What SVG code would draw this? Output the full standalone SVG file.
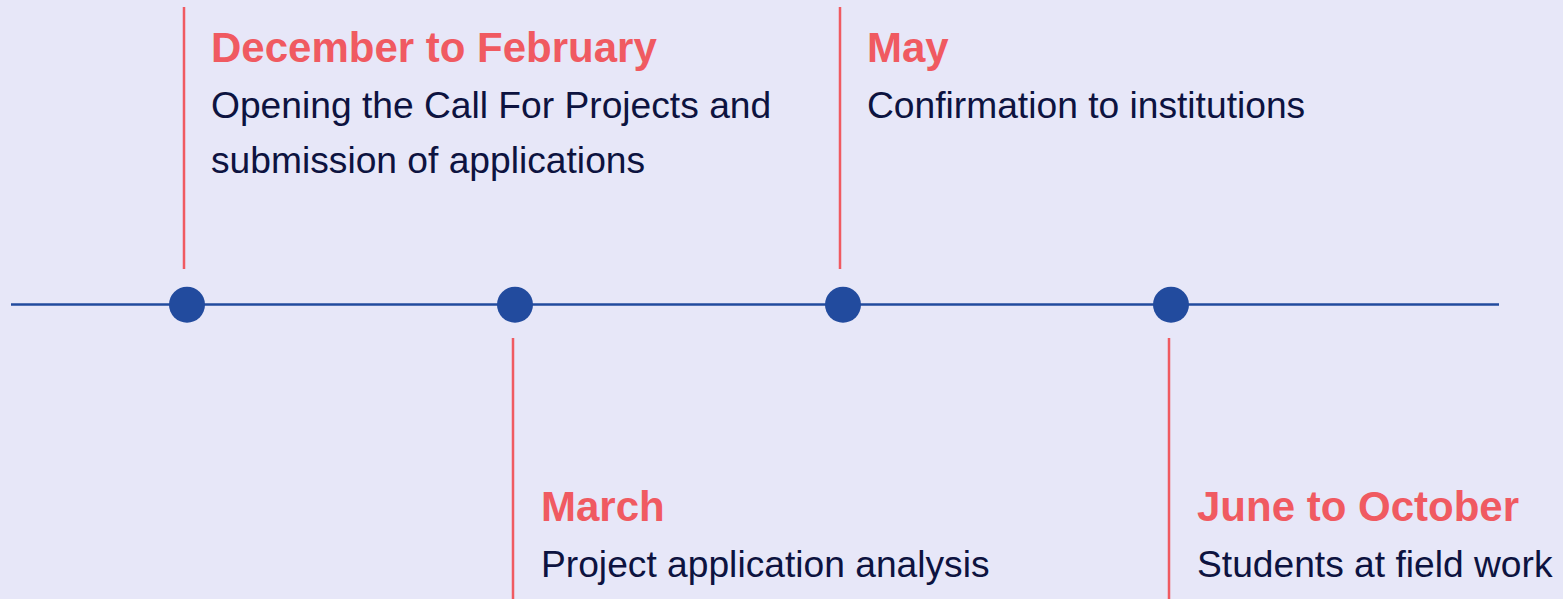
<svg xmlns="http://www.w3.org/2000/svg" width="1563" height="599" viewBox="0 0 1563 599">
<style>
.bg{fill:#e7e7f8}
.axis{stroke:#224b9e;stroke-width:2.5;fill:none}
.dot{fill:#224b9e}
.tick{stroke:#f05a61;stroke-width:2.5;fill:none}
.title{font-family:"Liberation Sans",Arial,sans-serif;font-weight:bold;font-size:42px;fill:#f05a61}
.body{font-family:"Liberation Sans",Arial,sans-serif;font-size:37.2px;fill:#0d1340}
</style>
<rect class="bg" x="0" y="0" width="1563" height="599"/>
<g id="connectors">
<line class="axis" x1="11" y1="304.5" x2="1499" y2="304.5"/>
<line class="tick" x1="184" y1="7" x2="184" y2="269"/>
<line class="tick" x1="513" y1="338" x2="513" y2="599"/>
<line class="tick" x1="840" y1="7" x2="840" y2="269"/>
<line class="tick" x1="1169" y1="338" x2="1169" y2="599"/>
</g>
<g id="node-dec">
<circle class="dot" cx="187" cy="304.7" r="18"/>
<text class="title" x="211" y="62">December to February</text>
<text class="body" x="211" y="118">Opening the Call For Projects and</text>
<text class="body" x="211" y="173">submission of applications</text>
</g>
<g id="node-mar">
<circle class="dot" cx="515" cy="304.7" r="18"/>
<text class="title" x="541" y="521">March</text>
<text class="body" x="541" y="577">Project application analysis</text>
</g>
<g id="node-may">
<circle class="dot" cx="843" cy="304.7" r="18"/>
<text class="title" x="867" y="62">May</text>
<text class="body" x="867" y="118">Confirmation to institutions</text>
</g>
<g id="node-jun">
<circle class="dot" cx="1171" cy="304.7" r="18"/>
<text class="title" x="1197" y="521">June to October</text>
<text class="body" x="1197" y="577">Students at field work</text>
</g>
</svg>
